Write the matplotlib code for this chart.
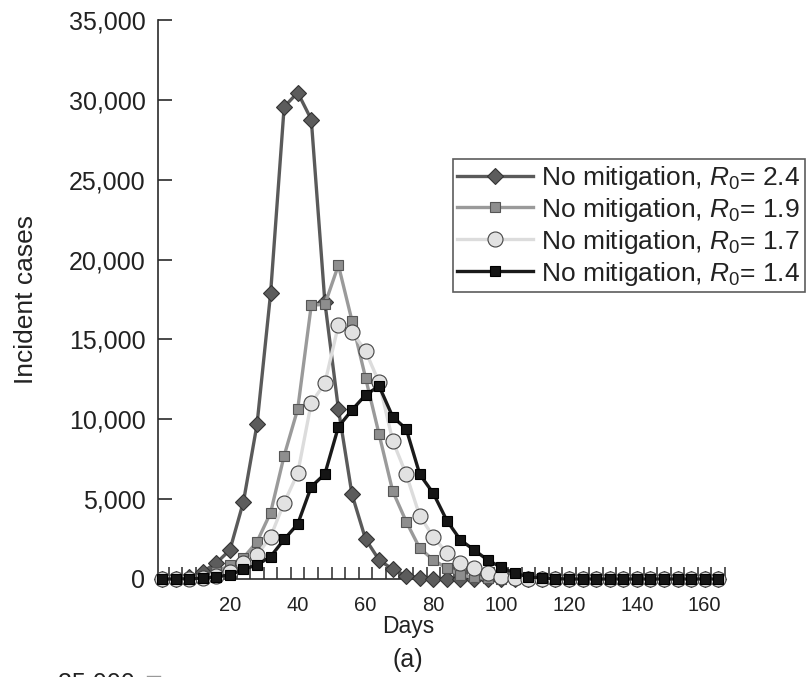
import matplotlib
matplotlib.use("Agg")
import matplotlib.pyplot as plt
from matplotlib.lines import Line2D
import numpy as np

plt.rcParams['font.family'] = ['Liberation Sans', 'DejaVu Sans']
plt.rcParams['mathtext.fontset'] = 'custom'
plt.rcParams['mathtext.rm'] = 'Liberation Sans'
plt.rcParams['mathtext.it'] = 'Liberation Sans:italic'

# Day of each observation (every 4 days)
days = list(range(0, 165, 4))

# Incident cases per scenario
cases_r24 = [0, 20, 120, 450, 1000, 1815, 4840, 9680, 17880, 29560, 30460, 28770,
             17350, 10640, 5300, 2500, 1190, 610, 200, 80, 30, 0, 0, 0, 0, 0, 0, 0,
             0, 0, 0, 0, 0, 0, 0, 0, 0, 0, 0, 0, 0, 0]
cases_r19 = [0, 0, 50, 150, 420, 880, 1330, 2330, 4150, 7720, 10640, 17150,
             17190, 19650, 16170, 12600, 9060, 5510, 3590, 1920, 1190, 670, 250, 100,
             40, 10, 0, 0, 0, 0, 0, 0, 0, 0, 0, 0, 0, 0, 0, 0, 0, 0]
cases_r17 = [0, 0, 30, 80, 200, 460, 980, 1500, 2650, 4780, 6620, 11030,
             12250, 15900, 15480, 14270, 12310, 8660, 6550, 3940, 2650, 1610, 980, 670,
             360, 110, 40, 10, 0, 0, 0, 0, 0, 0, 0, 0, 0, 0, 0, 0, 0, 0]
cases_r14 = [0, 0, 20, 60, 140, 250, 610, 880, 1400, 2480, 3440, 5780,
             6570, 9530, 10580, 11520, 12080, 10160, 9390, 6550, 5360, 3650, 2440, 1820,
             1190, 730, 360, 140, 60, 20, 0, 0, 0, 0, 0, 0, 0, 0, 0, 0, 0, 0]

labels = [r"No mitigation, $\mathit{R}_{\mathit{0}}$= 2.4",
          r"No mitigation, $\mathit{R}_{\mathit{0}}$= 1.9",
          r"No mitigation, $\mathit{R}_{\mathit{0}}$= 1.7",
          r"No mitigation, $\mathit{R}_{\mathit{0}}$= 1.4"]

y_ticks = [0, 5000, 10000, 15000, 20000, 25000, 30000, 35000]
x_labels = [20, 40, 60, 80, 100, 120, 140, 160]

fig = plt.figure(figsize=(8.09, 6.77), dpi=100)
ax = fig.add_axes([158 / 809, 1 - 579 / 677, (725 - 158) / 809, (579 - 20) / 677])

styles = [
    dict(color='#5a5a5a', lw=2.4, marker='D', ms=8.6, mfc='#5c5c5c', mec='#333333', mew=0.8),
    dict(color='#9a9a9a', lw=2.4, marker='s', ms=7.8, mfc='#8e8e8e', mec='#555555', mew=0.8),
    dict(color='#dcdcdc', lw=2.4, marker='o', ms=10.8, mfc='#e2e2e2', mec='#444444', mew=0.8),
    dict(color='#1a1a1a', lw=2.4, marker='s', ms=7.2, mfc='#151515', mec='#000000', mew=0.8),
]
series = [cases_r24, cases_r19, cases_r17, cases_r14]
handles = []
for vals, st, lab, z in zip(series, styles, labels, [3, 4, 5, 6]):
    h, = ax.plot(days, vals, label=lab, clip_on=False, zorder=z, **st)
    handles.append(h)

ax.set_xlim(-1.2, 166)
ax.set_ylim(0, 35000)

for side in ['top', 'right']:
    ax.spines[side].set_visible(False)
for side in ['left', 'bottom']:
    ax.spines[side].set_color('#2a2a2a')
    ax.spines[side].set_linewidth(1.2)
    ax.spines[side].set_zorder(2)

ax.set_yticks(y_ticks)
ax.set_yticklabels([f"{v:,}" for v in y_ticks])
ax.tick_params(axis='y', direction='in', length=10, width=1.2, color='#2a2a2a',
               pad=9, labelsize=18, labelcolor='#222222')

ax.set_xticks(x_labels)
ax.set_xticks(list(range(2, 167, 4)), minor=True)
ax.tick_params(axis='x', which='major', length=0, pad=12, labelsize=14.5,
               labelcolor='#222222')
ax.tick_params(axis='x', which='minor', direction='in', length=9, width=1.1,
               color='#2a2a2a')

ax.set_ylabel("Incident cases", fontsize=19, color='#222222')
ax.yaxis.set_label_coords(-0.212, 0.5)

fig.text(408 / 809, 1 - 627 / 677, "Days", fontsize=16.5, color='#222222',
         ha='center', va='center')
fig.text(408 / 809, 1 - 660 / 677, "(a)", fontsize=18, color='#222222',
         ha='center', va='center')

# Top of the next panel, cut by the lower edge
fig.text(135 / 809, 1 - 690 / 677, "35,000", fontsize=18, color='#222222',
         ha='right', va='baseline')
fig.add_artist(Line2D([147 / 809, 160 / 809], [0.8 / 677, 0.8 / 677],
                      color='#999999', lw=1.0))

leg = ax.legend(handles=handles, loc='upper left',
                bbox_to_anchor=(452.7 / 809, 1 - 159 / 677),
                bbox_transform=fig.transFigure, fontsize=19, frameon=True,
                fancybox=False, handlelength=2.85, handletextpad=0.3,
                labelspacing=0.15, borderpad=0.18, borderaxespad=0)
leg.get_frame().set_edgecolor('#333333')
leg.get_frame().set_linewidth(1.2)
for t in leg.get_texts():
    t.set_color('#222222')

fig.savefig("out.png", dpi=100)
